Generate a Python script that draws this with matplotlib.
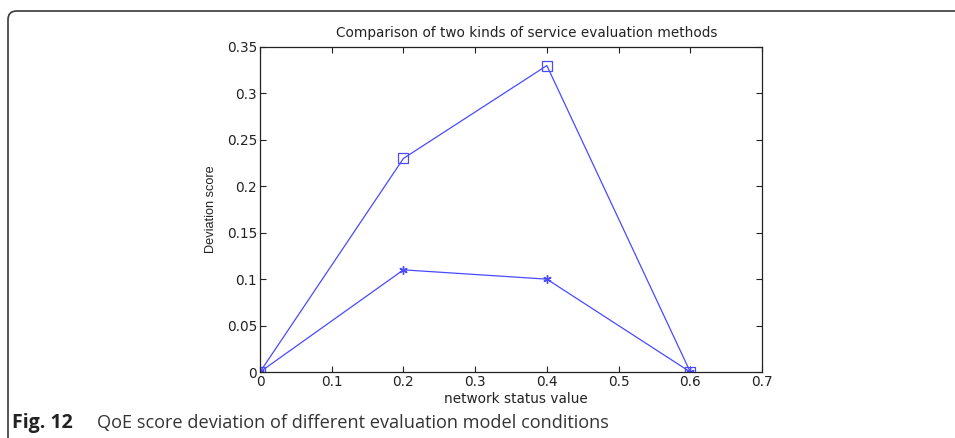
"""QoE score deviation figure (Fig. 12), MATLAB-style axes inside a caption box."""

import matplotlib

matplotlib.use("Agg")
import matplotlib.pyplot as plt  # noqa: E402
from matplotlib.patches import FancyBboxPatch  # noqa: E402

network_status = [0.0, 0.2, 0.4, 0.6]
square_scores = [0.0, 0.23, 0.33, 0.0]
star_scores = [0.0, 0.11, 0.10, 0.0]
x_ticks = [0, 0.1, 0.2, 0.3, 0.4, 0.5, 0.6, 0.7]
y_ticks = [0, 0.05, 0.1, 0.15, 0.2, 0.25, 0.3, 0.35]

plt.rcParams["font.family"] = ["DejaVu Sans"]
line_blue = "#4a4aff"
ink = "#222222"

fig = plt.figure(figsize=(9.55, 4.38), dpi=100)

# caption frame: rounded corner top-left, open to right/bottom
frame = FancyBboxPatch((8 / 955, -0.2), 1.2, (438 - 11) / 438 + 0.2,
                       boxstyle="round,pad=0,rounding_size=0.009",
                       transform=fig.transFigure, fill=False,
                       edgecolor="#3a3a3a", lw=1.2, mutation_aspect=955 / 438)
fig.patches.append(frame)

ax = fig.add_axes([260 / 955, 1 - 372 / 438, (762 - 260) / 955, (372 - 47) / 438])
ax.plot(network_status, square_scores, "-", marker="s", color=line_blue,
        mfc="none", mec=line_blue, ms=7, lw=0.9, mew=0.9)
ax.plot(network_status, star_scores, "-", marker=(6, 2, 0), color=line_blue,
        ms=6, lw=0.9, mew=1.0)
ax.set_xlim(0, 0.7)
ax.set_ylim(0, 0.35)
ax.set_xticks(x_ticks)
ax.set_xticklabels([f"{v:g}" for v in x_ticks])
ax.set_yticks(y_ticks)
ax.set_yticklabels([f"{v:g}" for v in y_ticks])
ax.tick_params(direction="in", top=True, right=True, length=4, width=0.8,
               labelsize=9.8, colors=ink, pad=2)
for sp in ax.spines.values():
    sp.set_linewidth(0.9)
    sp.set_color(ink)
ax.text(0.531, 1.0 + 14 / 325, "Comparison of two kinds of service evaluation methods",
        transform=ax.transAxes, ha="center", va="center", fontsize=9.8, color=ink)
ax.set_xlabel("network status value", fontsize=9.8, labelpad=0, color=ink)
ax.xaxis.set_label_coords(0.51, -20 / 325)
ax.set_ylabel("Deviation score", fontsize=9.2, color=ink,
              family="Liberation Sans")
ax.yaxis.set_label_coords(-43 / 502, 0.5)

fig.text(12 / 955, 1 - 423 / 438, "Fig. 12", fontsize=14, fontweight="bold",
         family="Open Sans", va="center", color=ink)
fig.text(97 / 955, 1 - 423 / 438,
         "QoE score deviation of different evaluation model conditions",
         fontsize=13.1, family="Open Sans", va="center", color="#333333")

fig.savefig("out.png", dpi=100)
